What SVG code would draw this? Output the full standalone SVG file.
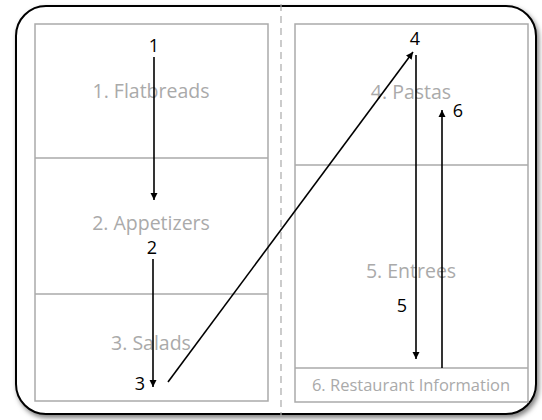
<svg xmlns="http://www.w3.org/2000/svg" width="542" height="420" viewBox="0 0 542 420">
<defs>
<filter id="sh" x="-5%" y="-5%" width="112%" height="112%">
<feDropShadow dx="2" dy="3" stdDeviation="2.5" flood-color="#000" flood-opacity="0.5"/>
</filter>
<marker id="ah" viewBox="0 0 10 10" refX="10" refY="5" markerWidth="7" markerHeight="10" markerUnits="userSpaceOnUse" orient="auto">
<path d="M0,0 L10,5 L0,10 z" fill="#000"/>
</marker>
<style>
.panel{fill:none;stroke:#aaa;stroke-width:1.5}
.sec{font-family:"Open Sans","Liberation Sans",sans-serif;font-size:19.5px;fill:#aaa;text-anchor:middle}
.num{font-family:"Open Sans","Liberation Sans",sans-serif;font-size:18px;fill:#000;text-anchor:middle}
.ar{stroke:#000;stroke-width:1.6;fill:none}
</style>
</defs>
<rect x="0" y="0" width="542" height="420" fill="#fff"/>
<g id="menu">
<rect x="16" y="6" width="520" height="408" rx="30" ry="30" fill="#fff" stroke="#000" stroke-width="2" filter="url(#sh)"/>
<line x1="281" y1="4" x2="281" y2="416" stroke="#aaa" stroke-width="1.2" stroke-dasharray="7,5"/>
</g>
<g id="left-panel">
<rect class="panel" x="35" y="24" width="233" height="377"/>
<line class="panel" x1="35" y1="158" x2="268" y2="158"/>
<line class="panel" x1="35" y1="294" x2="268" y2="294"/>
</g>
<g id="right-panel">
<rect class="panel" x="295" y="24" width="233" height="378"/>
<line class="panel" x1="295" y1="165" x2="528" y2="165"/>
<line class="panel" x1="295" y1="368" x2="528" y2="368"/>
</g>
<g id="sec1"><text class="sec" x="151" y="98">1. Flatbreads</text></g>
<g id="sec2"><text class="sec" x="151" y="230">2. Appetizers</text></g>
<g id="sec3"><text class="sec" x="151" y="350">3. Salads</text></g>
<g id="sec4"><text class="sec" x="411" y="99">4. Pastas</text></g>
<g id="sec5"><text class="sec" x="411" y="278">5. Entrees</text></g>
<g id="sec6"><text class="sec" x="411" y="391" style="font-size:16.5px">6. Restaurant Information</text></g>
<g id="connectors">
<line class="ar" x1="154" y1="57" x2="154" y2="200" marker-end="url(#ah)"/>
<line class="ar" x1="153" y1="259" x2="153" y2="387" marker-end="url(#ah)"/>
<line class="ar" x1="168" y1="382" x2="413" y2="52" marker-end="url(#ah)"/>
<line class="ar" x1="416" y1="55" x2="416" y2="359" marker-end="url(#ah)"/>
<line class="ar" x1="442" y1="368" x2="442" y2="110" marker-end="url(#ah)"/>
</g>
<g id="labels">
<text class="num" x="154" y="52">1</text>
<text class="num" x="152" y="254">2</text>
<text class="num" x="140" y="390">3</text>
<text class="num" x="415" y="45">4</text>
<text class="num" x="402" y="312">5</text>
<text class="num" x="458" y="117">6</text>
</g>
</svg>
